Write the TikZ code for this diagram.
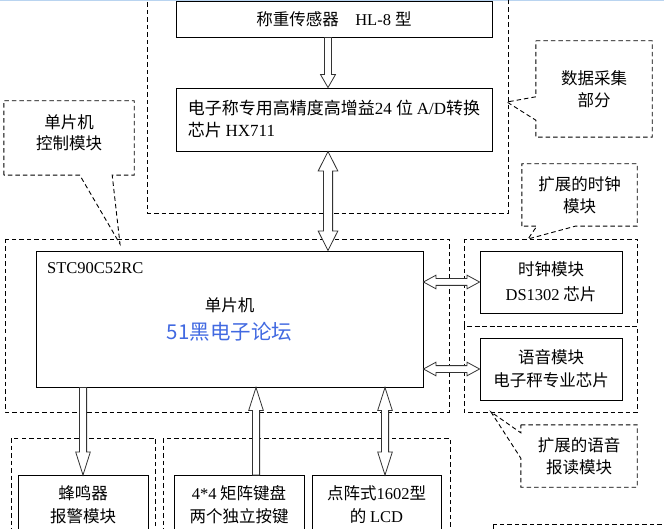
\documentclass[tikz,border=0pt]{standalone}
\usepackage{fontspec}
\setmainfont{Noto Sans CJK SC}
\newfontfamily\tnr{Liberation Serif}
\usepackage{xcolor}
\usepackage{tikz}
\usetikzlibrary{calc}

\definecolor{lt51}{RGB}{65,105,225}
\definecolor{topbar}{RGB}{185,212,240}

\begin{document}
\begin{tikzpicture}[
  x=1pt, y=-1pt,
  font=\fontsize{16.5}{23}\selectfont,
  box/.style={
    draw, line width=0.9pt,
    align=center, inner sep=2pt
  },
  grp/.style={draw, line width=0.9pt, dash pattern=on 4.5pt off 3pt},
  note/.style={align=center, inner sep=0pt, font=\fontsize{16.5}{21.5}\selectfont},
  arr/.style n args={3}{
    draw=black!80, fill=white, line width=0.8pt,
    to path={let \p1=(\tikztostart), \p2=(\tikztotarget),
      \n1={atan2(\y2-\y1,\x2-\x1)} in
      ($(\p1)+(\n1+90:#1)$) -- ($(\p2)+(\n1:-#3)+(\n1+90:#1)$)
      -- ($(\p2)+(\n1:-#3)+(\n1+90:#2)$) -- (\p2)
      -- ($(\p2)+(\n1:-#3)+(\n1-90:#2)$) -- ($(\p2)+(\n1:-#3)+(\n1-90:#1)$)
      -- ($(\p1)+(\n1-90:#1)$) -- cycle}
  },
  darr/.style n args={3}{
    draw=black!80, fill=white, line width=0.8pt,
    to path={let \p1=(\tikztostart), \p2=(\tikztotarget),
      \n1={atan2(\y2-\y1,\x2-\x1)} in
      (\p1) -- ($(\p1)+(\n1:#3)+(\n1+90:#2)$) -- ($(\p1)+(\n1:#3)+(\n1+90:#1)$)
      -- ($(\p2)+(\n1:-#3)+(\n1+90:#1)$) -- ($(\p2)+(\n1:-#3)+(\n1+90:#2)$)
      -- (\p2)
      -- ($(\p2)+(\n1:-#3)+(\n1-90:#2)$) -- ($(\p2)+(\n1:-#3)+(\n1-90:#1)$)
      -- ($(\p1)+(\n1:#3)+(\n1-90:#1)$) -- ($(\p1)+(\n1:#3)+(\n1-90:#2)$)
      -- cycle}
  },
]
\useasboundingbox (0,0) rectangle (664,529);
\clip (0,0) rectangle (664,529);
\fill[topbar] (0,0) rectangle (664,1.5);

%% Dashed groups (pixel grid, y downwards)
\draw[grp] (147,-5)   rectangle (508,213);
\draw[grp] (5,239)    rectangle (449,412);
\draw[grp] (464,239)  rectangle (637,326);
\draw[grp] (464,326)  rectangle (637,412);
\draw[grp] (11.5,438) rectangle (155.5,560);
\draw[grp] (163,438)  rectangle (450,560);
\draw[grp] (493,524)  rectangle (680,560);

%% Row 1 — data acquisition
\node[box, minimum width=316, minimum height=36] (sensor)
    at (334,19) {称重传感器\quad{\tnr HL-8 }型};
\node[box, minimum width=316, minimum height=63, align=left,
      font=\fontsize{17}{22}\selectfont] (hx711)
    at (334,119.5) {电子称专用高精度高增益{\tnr 24 }位 {\tnr A/D}转换\\芯片 {\tnr HX711}};

%% Row 2 — MCU and extensions
\node[box, minimum width=387, minimum height=136] (mcu)
    at (229.5,319) {单片机\\[5pt]{\color{lt51}\fontsize{20.5}{24}\selectfont 51黑电子论坛}};
\node[anchor=west, inner sep=0pt] (mcuname) at (47,268) {\tnr STC90C52RC};
\node[box, minimum width=142, minimum height=62,
      font=\fontsize{16.5}{25}\selectfont] (clock)
    at (551,282) {时钟模块\\{\tnr DS1302} 芯片};
\node[box, minimum width=142, minimum height=62] (voice)
    at (551,369) {语音模块\\电子秤专业芯片};

%% Row 3 — peripherals
\node[box, minimum width=130, minimum height=59] (buzzer)
    at (83,505) {蜂鸣器\\报警模块};
\node[box, minimum width=130, minimum height=59] (keypad)
    at (239,505) {{\tnr 4*4} 矩阵键盘\\两个独立按键};
\node[box, minimum width=129, minimum height=59] (lcd)
    at (376.5,505) {点阵式{\tnr 1602}型\\的 {\tnr LCD}};

%% Callouts
\node[note, minimum width=130, minimum height=74, text depth=12pt] (ctrlnote) at (69,138) {单片机\\控制模块};
\coordinate (ctrltip) at (120,244);
\draw[grp] (ctrlnote.south west) -- (ctrlnote.north west) -- (ctrlnote.north east)
  -- (ctrlnote.south east) -- ++(-22,0) -- (ctrltip)
  -- ($(ctrlnote.south west)+(76,0)$) -- cycle;

\node[note, minimum width=116, minimum height=96] (acqnote) at (594,89) {数据采集\\部分};
\coordinate (acqtip) at (507,102);
\draw[grp] (acqnote.north west) -- (acqnote.north east) -- (acqnote.south east)
  -- (acqnote.south west) -- ++(0,-17) -- (acqtip)
  -- ($(acqnote.north west)+(0,56)$) -- cycle;

\node[note, minimum width=115, minimum height=62] (clknote) at (579.5,195) {扩展的时钟\\模块};
\coordinate (clktip) at (528,239);
\draw[grp] (clknote.south west) -- (clknote.north west) -- (clknote.north east)
  -- (clknote.south east) -- ++(-62,0) -- (clktip)
  -- ($(clknote.south west)+(15,0)$) -- cycle;

\node[note, minimum width=116, minimum height=62] (vocnote) at (579,456) {扩展的语音\\报读模块};
\coordinate (voctip) at (491,412);
\draw[grp] (vocnote.north west) -- (vocnote.north east) -- (vocnote.south east)
  -- (vocnote.south west) -- ++(0,-29) -- (voctip)
  -- ($(vocnote.north west)+(0,8)$) -- cycle;

%% Hollow arrows
\draw[arr={3.5pt}{7.5pt}{13pt}] ([xshift=-6pt]sensor.south) to ([xshift=-6pt]hx711.north);
\draw[darr={4.6pt}{9.8pt}{19.5pt}] ([xshift=-6pt]hx711.south) to ([xshift=98.5pt]mcu.north);
\draw[darr={3.4pt}{6.8pt}{12.5pt}] (mcu.east |- clock.west) to (clock.west);
\draw[darr={3.4pt}{6.8pt}{12.5pt}] (mcu.east |- voice.west) to (voice.west);
\draw[arr={3.6pt}{7.3pt}{23pt}] (mcu.south -| buzzer.north) to (buzzer.north);
\draw[arr={3.6pt}{7.3pt}{23pt}] ([xshift=17pt]keypad.north) to ([xshift=26.5pt]mcu.south);
\draw[darr={3.6pt}{7.3pt}{23pt}] ([xshift=155.5pt]mcu.south) to ([xshift=8.5pt]lcd.north);
\end{tikzpicture}
\end{document}
